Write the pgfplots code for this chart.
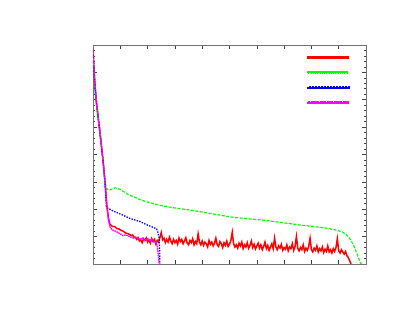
\documentclass[border=0pt]{standalone}
\usepackage{pgfplots}
\pgfplotsset{compat=1.18}
\definecolor{gpred}{rgb}{1,0,0}
\definecolor{gpgreen}{rgb}{0,1,0}
\definecolor{gpblue}{rgb}{0,0,1}
\definecolor{gpmag}{rgb}{1,0,1}
\begin{document}
\begin{tikzpicture}
\begin{axis}[name=ax, scale only axis, width=273pt, height=219pt,
  xmin=0, xmax=10, ymin=0, ymax=8,
  xtick={0,...,10}, ytick={0,...,8}, minor y tick num=4,
  xticklabels={}, yticklabels={},
  tick align=inside, major tick length=4pt, minor tick length=2pt,
  axis line style={black!55}, every tick/.style={black!75, line width=0.6pt},
  legend image code/.code={\draw[line cap=butt,#1] (0pt,0pt) -- (40pt,0pt);},
  legend style={draw=none, fill=none, inner sep=0pt, row sep=9.63pt,
    at={(axis cs:9.55,7.66)}, anchor=north east},
  legend cell align=left]
\addplot[draw=gpred, line width=1.5pt,
  legend image code/.code={\fill[gpred] (0pt,-1pt) rectangle (40pt,1pt);}] coordinates {
(0,7.85) (0.03,7.2) (0.07,6.55) (0.13,5.85) (0.25,4.85) (0.37,3.75) (0.44,3.0)
(0.5,2.2) (0.56,1.7) (0.62,1.45) (0.7,1.38) (0.8,1.36) (0.86,1.30) (0.95,1.28) (1.0,1.24) (1.1,1.2) (1.2,1.13) (1.3,1.10) (1.4,1.04) (1.45,1.06) (1.5,0.98)
(1.55,0.98) (1.60,0.90) (1.65,0.96) (1.70,0.84) (1.75,0.88) (1.80,0.78) (1.85,0.92) (1.90,0.86) (1.95,0.95) (2.00,0.80)
(2.05,0.88) (2.10,0.76) (2.15,0.93) (2.20,0.82) (2.25,0.90) (2.30,0.74) (2.35,0.86) (2.40,0.80) (2.45,0.97) (2.50,1.15)
(2.55,0.88) (2.60,0.94) (2.65,0.78) (2.70,0.90) (2.75,0.80) (2.80,0.98) (2.85,0.84) (2.90,0.74) (2.95,0.90) (3.00,0.78)
(3.05,0.86) (3.10,0.72) (3.15,0.95) (3.20,0.82) (3.25,0.90) (3.30,0.74) (3.35,0.84) (3.40,0.96) (3.45,0.76) (3.50,0.70)
(3.55,0.86) (3.60,0.78) (3.65,0.92) (3.70,0.70) (3.75,0.82) (3.80,0.74) (3.85,1.10) (3.90,0.80) (3.95,0.70) (4.00,0.84)
(4.05,0.68) (4.10,0.80) (4.15,0.74) (4.20,0.62) (4.25,0.86) (4.30,0.72) (4.35,0.80) (4.40,0.66) (4.45,0.76) (4.50,0.94)
(4.55,0.70) (4.60,0.64) (4.65,0.82) (4.70,0.74) (4.75,0.60) (4.80,0.78) (4.85,0.68) (4.90,0.84) (4.95,0.64) (5.00,0.72)
(5.05,0.86) (5.10,1.16) (5.15,0.74) (5.20,0.62) (5.25,0.70) (5.30,0.58) (5.35,0.76) (5.40,0.66) (5.45,0.80) (5.50,0.56)
(5.55,0.70) (5.60,0.62) (5.65,0.78) (5.70,0.58) (5.75,0.68) (5.80,0.84) (5.85,0.60) (5.90,0.72) (5.95,0.55) (6.00,0.66)
(6.05,0.76) (6.10,0.58) (6.15,0.70) (6.20,0.52) (6.25,0.64) (6.30,0.80) (6.35,0.56) (6.40,0.68) (6.45,0.50) (6.50,0.62)
(6.55,0.74) (6.60,0.56) (6.65,0.94) (6.70,0.62) (6.75,0.52) (6.80,0.66) (6.85,0.58) (6.90,0.72) (6.95,0.50) (7.00,0.60)
(7.05,0.54) (7.10,0.70) (7.15,0.48) (7.20,0.62) (7.25,0.56) (7.30,0.74) (7.35,0.50) (7.40,0.64) (7.45,1.00) (7.50,0.58)
(7.55,0.48) (7.60,0.60) (7.65,0.52) (7.70,0.70) (7.75,0.46) (7.80,0.58) (7.85,0.50) (7.90,0.64) (7.95,0.94) (8.00,0.52)
(8.05,0.44) (8.10,0.58) (8.15,0.50) (8.20,0.66) (8.25,0.44) (8.30,0.56) (8.35,0.48) (8.40,0.62) (8.45,0.42) (8.50,0.54)
(8.55,0.46) (8.60,0.66) (8.65,0.44) (8.70,0.52) (8.75,0.40) (8.80,0.56) (8.85,0.46) (8.90,0.60) (8.95,0.92) (9.00,0.48)
(9.05,0.40) (9.10,0.52) (9.15,0.44) (9.20,0.36) (9.25,0.46) (9.30,0.30) (9.35,0.24) (9.40,0.12) (9.45,0.0)
};
\addlegendentry{}
\addplot[draw=gpgreen, line width=1.2pt, dash pattern=on 3pt off 1.5pt,
  legend image code/.code={\foreach \i in {0,...,8} {\fill[gpgreen] (4.5*\i pt,-1pt) rectangle +(3pt,2pt);}}] coordinates {
(0,7.85) (0.03,7.2) (0.07,6.55) (0.13,5.85) (0.25,4.85) (0.37,3.75) (0.44,3.0)
(0.49,2.75) (0.55,2.72) (0.62,2.70) (0.7,2.74) (0.8,2.78) (0.9,2.76) (1.0,2.72) (1.1,2.66) (1.25,2.56)
(1.45,2.47) (1.6,2.41) (1.7,2.36) (1.85,2.31) (1.97,2.27) (2.1,2.24) (2.25,2.19) (2.4,2.16) (2.55,2.12) (2.7,2.10) (2.9,2.06) (3.05,2.04) (3.2,2.02) (3.35,2.00) (3.5,1.98) (3.71,1.95)
(3.85,1.92) (4.0,1.90) (4.2,1.86) (4.35,1.84) (4.5,1.81) (4.7,1.78) (4.96,1.73) (5.2,1.70) (5.5,1.67) (5.8,1.64) (6.18,1.61) (6.5,1.57) (6.8,1.53) (7.1,1.49) (7.4,1.45) (7.7,1.41) (8.0,1.38) (8.3,1.34) (8.62,1.30)
(8.9,1.24) (9.11,1.18) (9.25,1.10) (9.35,1.0) (9.45,0.86) (9.54,0.69) (9.66,0.39) (9.78,0.08) (9.82,0)
};
\addlegendentry{}
\addplot[draw=gpblue, line width=1.3pt, dash pattern=on 1.4pt off 1.3pt,
  legend image code/.code={\foreach \i in {0,...,13} {\fill[gpblue] (3*\i pt,-1pt) rectangle +(1.8pt,2pt);}}] coordinates {
(0,7.85) (0.03,7.2) (0.07,6.55) (0.13,5.85) (0.25,4.85) (0.37,3.75) (0.44,3.0)
(0.49,2.1) (0.55,2.03) (0.62,2.0) (0.75,1.93) (0.9,1.87) (1.1,1.78) (1.36,1.66) (1.72,1.55) (2.0,1.42)
(2.2,1.34) (2.33,1.28) (2.38,1.15) (2.42,0.95) (2.44,0.5) (2.45,0)
};
\addlegendentry{}
\addplot[draw=gpmag, line width=1.4pt, dash pattern=on 1.5pt off 0.7pt,
  legend image code/.code={\foreach \i in {0,...,17} {\fill[gpmag] (2.3*\i pt,-1pt) rectangle +(1.5pt,2pt);}}] coordinates {
(0,7.85) (0.03,7.2) (0.07,6.55) (0.13,5.85) (0.25,4.85) (0.37,3.75) (0.44,3.0)
(0.5,2.2) (0.56,1.65) (0.62,1.36) (0.7,1.25) (0.86,1.18) (1.0,1.10) (1.1,1.04) (1.2,1.06) (1.35,1.0)
(1.5,0.94) (1.6,0.97) (1.72,0.90) (1.82,0.95) (1.9,0.86) (2.0,0.92) (2.08,0.84) (2.15,0.90) (2.2,0.82)
(2.3,0.80) (2.36,0.63) (2.39,0.35) (2.41,0.15) (2.42,0)
};
\addlegendentry{}
\end{axis}
\path ([shift={(-93pt,-50pt)}]ax.south west) rectangle ([shift={(27pt,45pt)}]ax.north east);
\end{tikzpicture}
\end{document}
